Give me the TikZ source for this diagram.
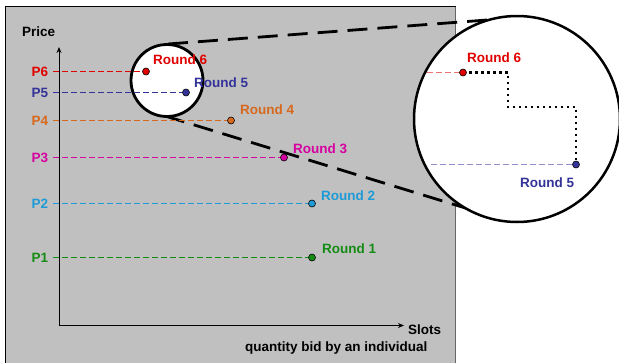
\documentclass[tikz,border=0pt]{standalone}
\usepackage{fontspec}
\setmainfont{Liberation Sans}
\usetikzlibrary{arrows.meta}
\definecolor{panel}{RGB}{192,192,192}
\definecolor{cSix}{RGB}{225,0,0}
\definecolor{cFive}{RGB}{51,51,153}
\definecolor{cFour}{RGB}{215,105,30}
\definecolor{cThree}{RGB}{215,0,160}
\definecolor{cTwo}{RGB}{30,155,215}
\definecolor{cOne}{RGB}{20,140,20}
\begin{document}
\begin{tikzpicture}[x=1pt,y=-1pt,
  lbl/.style={font=\fontsize{13.5}{15}\selectfont\bfseries,inner sep=0pt,anchor=base west},
  plbl/.style={font=\fontsize{13.5}{15}\selectfont\bfseries,inner sep=0pt,anchor=base},
  pricelevel/.style={draw=#1,line width=1.1pt,dash pattern=on 6pt off 3pt},
  bid/.style={circle,draw=black,line width=0.6pt,inner sep=0pt,minimum size=7pt},
  lens/.style={draw=black,fill=white,line width=2.8pt},
  zoomline/.style={line width=2.8pt,dash pattern=on 20pt off 10pt},
  staircase/.style={line width=2.6pt,dash pattern=on 2.6pt off 3.4pt}]
\useasboundingbox (0,0) rectangle (619,362);
% grey panel
\fill[panel] (5,6) rectangle (456,372);
\draw[line width=1pt] (5.5,372) -- (5.5,6.5) -- (456,6.5);
\draw[line width=1pt,black!60] (455.5,6.5) -- (455.5,372);

% magnifier outlines
\coordinate (st) at (168,44);
\coordinate (sb) at (165,116);
\coordinate (bt) at (487,20);
\coordinate (bb) at (485,214);
\draw[zoomline] (st) -- (bt);
\draw[zoomline] (sb) -- (bb);
\node[lens,circle,minimum size=72pt,inner sep=0pt] (small) at (167,80.5) {};
\node[lens,circle,minimum size=206pt,inner sep=0pt,line width=2.5pt] (big) at (517,119) {};

% axes
\coordinate (O) at (59,325.5);
\coordinate (ytop) at (59,47);
\coordinate (xend) at (404,325.5);
\draw[line width=1pt,-{Stealth[length=6pt,width=5pt]}] (O) -- (ytop);
\draw[line width=1pt,-{Stealth[length=6pt,width=5pt]}] (O) -- (xend);
\node[lbl] (price) at (22,36.5) {Price};
\node[lbl] (slots) at (408,334) {Slots};
\node[lbl] (qty) at (245,351) {quantity bid by an individual};

% price levels
\node[plbl,text=cSix] (p6) at (40,76) {P6};
\node[plbl,text=cFive] (p5) at (40,97) {P5};
\node[plbl,text=cFour] (p4) at (40,125) {P4};
\node[plbl,text=cThree] (p3) at (40,162) {P3};
\node[plbl,text=cTwo] (p2) at (40,208) {P2};
\node[plbl,text=cOne] (p1) at (40,262) {P1};

% bids
\node[bid,fill=cSix] (r6) at (146,71.5) {};
\node[bid,fill=cFive] (r5) at (186,92.5) {};
\node[bid,fill=cFour] (r4) at (231,120.5) {};
\node[bid,fill=cThree] (r3) at (284,157.5) {};
\node[bid,fill=cTwo] (r2) at (312,203.5) {};
\node[bid,fill=cOne] (r1) at (312,257.5) {};

\path[pricelevel=cSix] (53,71.5) -- (r6);
\path[pricelevel=cFive] (53,92.5) -- (r5);
\path[pricelevel=cFour] (53,120.5) -- (r4);
\path[pricelevel=cThree] (53,157.5) -- (r3);
\path[pricelevel=cTwo] (53,203.5) -- (r2);
\path[pricelevel=cOne] (53,257.5) -- (r1);

\node[lbl,text=cSix] at (153,64) {Round 6};
\node[lbl,text=cFive] at (194,87) {Round 5};
\node[lbl,text=cFour] at (240,114) {Round 4};
\node[lbl,text=cThree] at (293,153) {Round 3};
\node[lbl,text=cTwo] at (321,200) {Round 2};
\node[lbl,text=cOne] at (322,253) {Round 1};

% magnified view
\coordinate (z6l) at (427,72.5);
\coordinate (z5l) at (431,164.5);
\coordinate (s1) at (508,72.5);
\coordinate (s2) at (508,107);
\coordinate (s3) at (576,107);
\path[pricelevel=cSix!55] (z6l) -- (463,72.5);
\path[pricelevel=cFive!55] (z5l) -- (576,164.5);
\draw[staircase] (463,72.5) -- (s1) -- (s2) -- (s3) -- (576,164.5);
\node[bid,fill=cSix] (z6) at (463,72.5) {};
\node[bid,fill=cFive] (z5) at (576,164.5) {};
\node[lbl,text=cSix] at (467,62) {Round 6};
\node[lbl,text=cFive] at (520,187) {Round 5};
\end{tikzpicture}
\end{document}
